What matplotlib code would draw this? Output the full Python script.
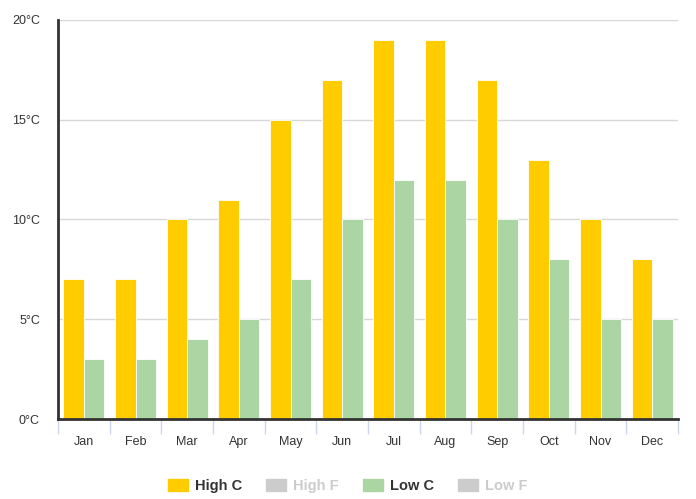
import matplotlib.pyplot as plt
import matplotlib.patches as mpatches
import numpy as np

months = ['Jan', 'Feb', 'Mar', 'Apr', 'May', 'Jun', 'Jul', 'Aug', 'Sep', 'Oct', 'Nov', 'Dec']
high_c = [7, 7, 10, 11, 15, 17, 19, 19, 17, 13, 10, 8]
low_c = [3, 3, 4, 5, 7, 10, 12, 12, 10, 8, 5, 5]
yticks = [0, 5, 10, 15, 20]

plt.rcParams['font.family'] = ['Liberation Sans', 'DejaVu Sans']

fig = plt.figure(figsize=(6.96, 4.99), dpi=100)
ax = fig.add_axes([58/696, 1-419/499, 620/696, 399/499])

x = np.arange(len(months))
w = 0.395
ax.bar(x - w/2, high_c, w, color='#FFCC00', edgecolor='white', linewidth=0.6, zorder=3)
ax.bar(x + w/2, low_c, w, color='#ACD5A4', edgecolor='white', linewidth=0.6, zorder=3)

ax.set_xlim(-0.5, 11.5)
ax.set_ylim(0, 20)
ax.set_yticks(yticks)
ax.set_yticklabels([f'{v}°C' for v in yticks], fontsize=9, color='#333333')
ax.tick_params(axis='y', length=0, pad=13)
ax.yaxis.grid(True, color='#D8D8D8', linewidth=1, zorder=0)

ax.set_xticks(x)
ax.set_xticklabels(months, fontsize=9, color='#333333')
ax.tick_params(axis='x', which='major', length=0, pad=12)
ax.set_xticks(np.arange(-0.5, 12.5, 1), minor=True)
ax.tick_params(axis='x', which='minor', length=11, color='#CCD6EB', width=1)

for s in ['top', 'right']:
    ax.spines[s].set_visible(False)
ax.spines['left'].set_color('#333333')
ax.spines['left'].set_linewidth(2)
ax.spines['bottom'].set_color('#333333')
ax.spines['bottom'].set_linewidth(2)
ax.spines['bottom'].set_zorder(4)

handles = [
    mpatches.Patch(color='#FFCC00', label='High C'),
    mpatches.Patch(color='#CCCCCC', label='High F'),
    mpatches.Patch(color='#ACD5A4', label='Low C'),
    mpatches.Patch(color='#CCCCCC', label='Low F'),
]
leg = fig.legend(handles=handles, loc='center', bbox_to_anchor=(0.5, 1-486/499), ncol=4,
                 frameon=False, prop={'weight': 'bold', 'size': 10.5},
                 handlelength=1.35, handleheight=0.9, handletextpad=0.5, columnspacing=1.65)
for t, c in zip(leg.get_texts(), ['#333333', '#CCCCCC', '#333333', '#CCCCCC']):
    t.set_color(c)

fig.savefig('out.png', dpi=100)
